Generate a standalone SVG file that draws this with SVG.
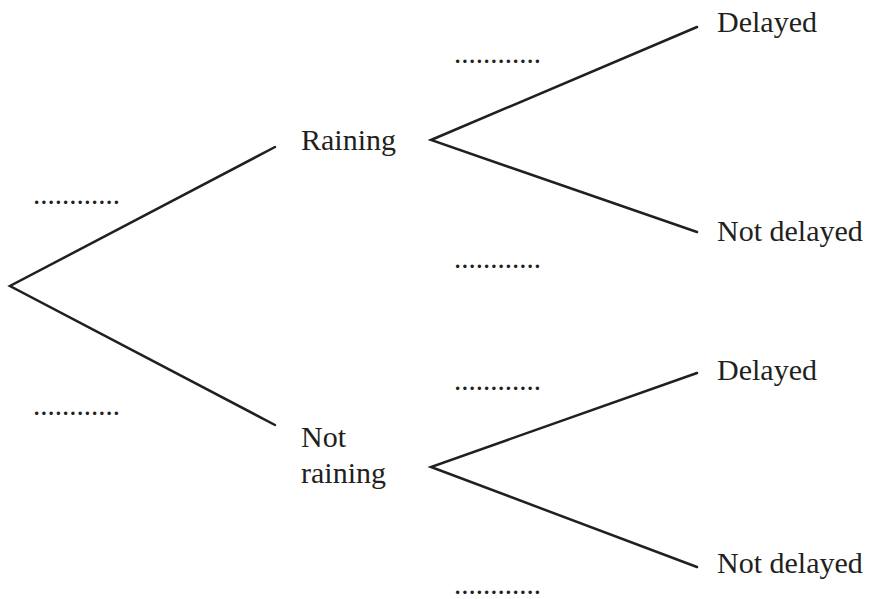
<svg xmlns="http://www.w3.org/2000/svg" width="871" height="599" viewBox="0 0 871 599">
<style>
text{font-family:"Liberation Serif","Times New Roman",serif;font-size:30px;fill:#231f20}
text.d{font-size:29px}
.br{stroke:#231f20;stroke-width:2.5;fill:none;stroke-linecap:round;stroke-linejoin:miter}
</style>
<rect width="871" height="599" fill="#fff"/>
<g id="connectors">
<polyline class="br" points="275,147 10,286 275,425"/>
<polyline class="br" points="697,27 431,140 697,232"/>
<polyline class="br" points="697,373 431,467 697,567"/>
</g>
<g id="prob-root-up"><text class="d" x="33" y="204">............</text></g>
<g id="prob-root-down"><text class="d" x="33" y="415">............</text></g>
<g id="node-raining"><text x="301" y="150">Raining</text></g>
<g id="node-not-raining"><text x="301" y="447">Not</text><text x="301" y="483">raining</text></g>
<g id="prob-r-up"><text class="d" x="454" y="63">............</text></g>
<g id="prob-r-down"><text class="d" x="454" y="268">............</text></g>
<g id="prob-nr-up"><text class="d" x="454" y="390">............</text></g>
<g id="prob-nr-down"><text class="d" x="454" y="594">............</text></g>
<g id="node-r-delayed"><text x="717" y="32">Delayed</text></g>
<g id="node-r-notdelayed"><text x="717" y="241">Not delayed</text></g>
<g id="node-nr-delayed"><text x="717" y="380">Delayed</text></g>
<g id="node-nr-notdelayed"><text x="717" y="573">Not delayed</text></g>
</svg>
